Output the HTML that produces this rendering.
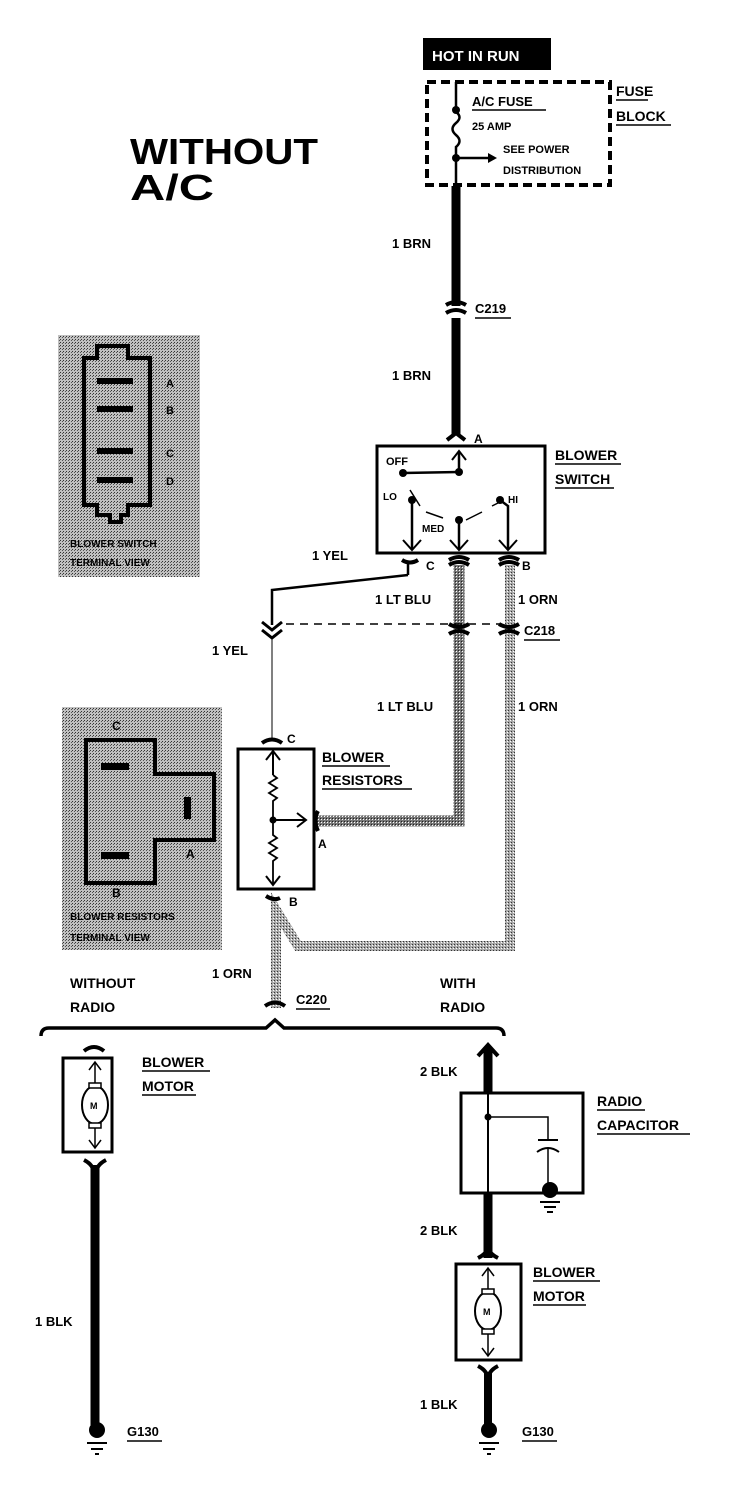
<!DOCTYPE html>
<html><head><meta charset="utf-8"><style>
html,body{margin:0;padding:0;background:#fff;}
svg{display:block;}
text{font-family:"Liberation Sans",sans-serif;font-weight:bold;fill:#000;}
</style></head><body>
<svg width="736" height="1508" viewBox="0 0 736 1508" xmlns="http://www.w3.org/2000/svg">
<defs>
<pattern id="dots" width="3" height="3" patternUnits="userSpaceOnUse">
<rect width="3" height="3" fill="#c0c0c0"/><rect width="1" height="1" fill="#333"/><rect x="2" y="1" width="1" height="1" fill="#555"/>
</pattern>
<pattern id="wire" width="3" height="3" patternUnits="userSpaceOnUse">
<rect width="3" height="3" fill="#777"/><rect width="1" height="1" fill="#fff"/><rect x="2" y="2" width="1" height="1" fill="#222"/>
</pattern>
<pattern id="wire2" width="3" height="3" patternUnits="userSpaceOnUse">
<rect width="3" height="3" fill="#aaa"/><rect width="1" height="1" fill="#fff"/><rect x="1" y="2" width="1" height="1" fill="#333"/>
</pattern>
</defs>

<text x="130" y="164" font-size="36" textLength="188" lengthAdjust="spacingAndGlyphs">WITHOUT</text>
<text x="130" y="200" font-size="36" textLength="84" lengthAdjust="spacingAndGlyphs">A/C</text>

<rect x="423" y="38" width="128" height="32" fill="#000"/>
<text x="432" y="61" font-size="15" style="fill:#fff">HOT IN RUN</text>

<rect x="427" y="82" width="183" height="103" fill="none" stroke="#000" stroke-width="4" stroke-dasharray="9,5"/>
<text x="616" y="96" font-size="14">FUSE</text><line x1="616" y1="100" x2="648" y2="100" stroke="#000" stroke-width="1.5"/>
<text x="616" y="121" font-size="14">BLOCK</text><line x1="616" y1="125" x2="671" y2="125" stroke="#000" stroke-width="1.5"/>
<line x1="456" y1="82" x2="456" y2="112" stroke="#000" stroke-width="2.5"/>
<path d="M456 112 q7 5 0 11 q-7 6 0 12 q7 6 0 12 L456 190" fill="none" stroke="#000" stroke-width="2.5"/>
<circle cx="456" cy="110" r="4"/><circle cx="456" cy="158" r="4"/>
<line x1="456" y1="158" x2="490" y2="158" stroke="#000" stroke-width="2.5"/>
<path d="M488 153 L497 158 L488 163 Z"/>
<text x="472" y="106" font-size="13">A/C FUSE</text><line x1="472" y1="110" x2="546" y2="110" stroke="#000" stroke-width="1.5"/>
<text x="472" y="130" font-size="11">25 AMP</text>
<text x="503" y="153" font-size="11">SEE POWER</text>
<text x="503" y="174" font-size="11">DISTRIBUTION</text>

<line x1="456" y1="186" x2="456" y2="306" stroke="#000" stroke-width="9"/>
<line x1="456" y1="318" x2="456" y2="435" stroke="#000" stroke-width="9"/>
<path d="M446 305 q10 -6 20 0" fill="none" stroke="#000" stroke-width="4"/>
<path d="M446 313 q10 -6 20 0" fill="none" stroke="#000" stroke-width="4"/>
<text x="392" y="248" font-size="13">1 BRN</text>
<text x="475" y="313" font-size="13">C219</text><line x1="475" y1="318" x2="511" y2="318" stroke="#000" stroke-width="1.5"/>
<text x="392" y="380" font-size="13">1 BRN</text>
<path d="M447 440 L456 433 L465 440" fill="none" stroke="#000" stroke-width="4"/>
<text x="474" y="443" font-size="12">A</text>

<rect x="377" y="446" width="168" height="107" fill="none" stroke="#000" stroke-width="3"/>
<text x="555" y="460" font-size="14">BLOWER</text><line x1="555" y1="464" x2="621" y2="464" stroke="#000" stroke-width="1.5"/>
<text x="555" y="484" font-size="14">SWITCH</text><line x1="555" y1="488" x2="614" y2="488" stroke="#000" stroke-width="1.5"/>
<text x="386" y="465" font-size="11">OFF</text>
<circle cx="403" cy="473" r="4"/><circle cx="459" cy="472" r="4"/>
<line x1="403" y1="473" x2="459" y2="472" stroke="#000" stroke-width="2.5"/>
<line x1="459" y1="472" x2="459" y2="452" stroke="#000" stroke-width="2.5"/>
<path d="M452 460 L459 451 L466 460" fill="none" stroke="#000" stroke-width="2"/>
<text x="383" y="500" font-size="10">LO</text>
<text x="508" y="503" font-size="10">HI</text>
<text x="422" y="532" font-size="10">MED</text>
<circle cx="412" cy="500" r="4"/><circle cx="459" cy="520" r="4"/><circle cx="500" cy="500" r="4"/>
<path d="M410 490 L420 506 M426 512 L443 518 M466 520 L482 512 M492 506 L498 503" fill="none" stroke="#000" stroke-width="1.5"/>
<line x1="412" y1="500" x2="412" y2="550" stroke="#000" stroke-width="2.5"/>
<line x1="459" y1="520" x2="459" y2="550" stroke="#000" stroke-width="2.5"/>
<path d="M500 500 L508 506 L508 550" fill="none" stroke="#000" stroke-width="2.5"/>
<path d="M403 540 L412 550 L421 540 M450 540 L459 550 L468 540 M499 540 L508 550 L517 540" fill="none" stroke="#000" stroke-width="2"/>

<path d="M402 560 q8 5 16 0 M449 560 q10 -6 20 0 M499 560 q10 -6 20 0" fill="none" stroke="#000" stroke-width="4"/>
<line x1="408" y1="562" x2="408" y2="575" stroke="#000" stroke-width="2.5"/>
<text x="426" y="570" font-size="12">C</text>
<text x="522" y="570" font-size="12">B</text>
<text x="312" y="560" font-size="13">1 YEL</text>

<path d="M408 575 L272 590 L272 625" fill="none" stroke="#000" stroke-width="2.5"/>
<path d="M262 622 L272 630 L282 622 M262 630 L272 638 L282 630" fill="none" stroke="#000" stroke-width="3"/>
<line x1="272" y1="638" x2="272" y2="740" stroke="#000" stroke-width="1"/>
<text x="212" y="655" font-size="13">1 YEL</text>

<path d="M459 565 L459 821 L316 821" fill="none" stroke="url(#wire)" stroke-width="11"/>
<path d="M510 565 L510 946 L298 946 L276 910 L276 1008" fill="none" stroke="url(#wire2)" stroke-width="10"/>
<path d="M449 565 q10 -6 20 0 M499 565 q10 -6 20 0" fill="none" stroke="#000" stroke-width="4"/>

<line x1="286" y1="624" x2="500" y2="624" stroke="#000" stroke-width="1.5" stroke-dasharray="8,6"/>
<path d="M449 624 q10 6 20 0 M449 634 q10 -6 20 0 M499 624 q10 6 20 0 M499 634 q10 -6 20 0" fill="none" stroke="#000" stroke-width="4"/>
<text x="524" y="635" font-size="13">C218</text><line x1="524" y1="640" x2="560" y2="640" stroke="#000" stroke-width="1.5"/>
<text x="375" y="604" font-size="13">1 LT BLU</text>
<text x="518" y="604" font-size="13">1 ORN</text>
<text x="377" y="711" font-size="13">1 LT BLU</text>
<text x="518" y="711" font-size="13">1 ORN</text>

<rect x="238" y="749" width="76" height="140" fill="#fff" stroke="#000" stroke-width="3"/>
<path d="M262 743 q10 -7 20 0" fill="none" stroke="#000" stroke-width="4"/>
<text x="287" y="743" font-size="12">C</text>
<line x1="273" y1="752" x2="273" y2="775" stroke="#000" stroke-width="2"/>
<path d="M266 760 L273 751 L280 760" fill="none" stroke="#000" stroke-width="2"/>
<path d="M273 775 l4 3 l-8 5 l8 5 l-8 5 l8 5 l-4 3 L273 818" fill="none" stroke="#000" stroke-width="1.8"/>
<circle cx="273" cy="820" r="3.5"/>
<line x1="273" y1="820" x2="305" y2="820" stroke="#000" stroke-width="2"/>
<path d="M297 813 L306 820 L297 827" fill="none" stroke="#000" stroke-width="2"/>
<path d="M273 822 L273 835 l4 3 l-8 5 l8 5 l-8 5 l8 5 l-4 3 L273 885" fill="none" stroke="#000" stroke-width="1.8"/>
<path d="M266 876 L273 885 L280 876" fill="none" stroke="#000" stroke-width="2"/>
<path d="M318 811 q-5 9 0 20" fill="none" stroke="#000" stroke-width="4"/>
<text x="318" y="848" font-size="12">A</text>
<path d="M266 896 q8 5 14 2" fill="none" stroke="#000" stroke-width="4"/>
<text x="289" y="906" font-size="12">B</text>
<text x="322" y="762" font-size="14">BLOWER</text><line x1="322" y1="766" x2="390" y2="766" stroke="#000" stroke-width="1.5"/>
<text x="322" y="785" font-size="14">RESISTORS</text><line x1="322" y1="789" x2="412" y2="789" stroke="#000" stroke-width="1.5"/>

<text x="212" y="978" font-size="13">1 ORN</text>
<path d="M265 1006 q10 -7 20 0" fill="none" stroke="#000" stroke-width="4"/>
<text x="296" y="1004" font-size="13">C220</text><line x1="296" y1="1009" x2="330" y2="1009" stroke="#000" stroke-width="1.5"/>
<path d="M41 1036 q0 -8 8 -8 L266 1028 L275 1020 L284 1028 L496 1028 q8 0 8 8" fill="none" stroke="#000" stroke-width="3.5"/>
<text x="70" y="988" font-size="14">WITHOUT</text>
<text x="70" y="1012" font-size="14">RADIO</text>
<text x="440" y="988" font-size="14">WITH</text>
<text x="440" y="1012" font-size="14">RADIO</text>

<path d="M84 1051 q10 -8 20 0" fill="none" stroke="#000" stroke-width="4"/>
<rect x="63" y="1058" width="49" height="94" fill="#fff" stroke="#000" stroke-width="3"/>
<line x1="95" y1="1062" x2="95" y2="1148" stroke="#000" stroke-width="1.5"/>
<path d="M89 1070 L95 1062 L101 1070 M89 1140 L95 1148 L101 1140" fill="none" stroke="#000" stroke-width="1.5"/>
<ellipse cx="95" cy="1105" rx="13" ry="19" fill="#fff" stroke="#000" stroke-width="2"/>
<rect x="89" y="1083" width="12" height="5" fill="#fff" stroke="#000" stroke-width="1.5"/>
<rect x="89" y="1123" width="12" height="5" fill="#fff" stroke="#000" stroke-width="1.5"/>
<text x="90" y="1109" font-size="9">M</text>
<text x="142" y="1067" font-size="14">BLOWER</text><line x1="142" y1="1071" x2="210" y2="1071" stroke="#000" stroke-width="1.5"/>
<text x="142" y="1091" font-size="14">MOTOR</text><line x1="142" y1="1095" x2="196" y2="1095" stroke="#000" stroke-width="1.5"/>
<path d="M84 1160 q10 5 10 14 M106 1160 q-10 5 -10 14" fill="none" stroke="#000" stroke-width="4"/>
<line x1="95" y1="1165" x2="95" y2="1425" stroke="#000" stroke-width="9"/>
<text x="35" y="1326" font-size="13">1 BLK</text>
<circle cx="97" cy="1430" r="8"/>
<line x1="87" y1="1443" x2="107" y2="1443" stroke="#000" stroke-width="2"/>
<line x1="91" y1="1449" x2="103" y2="1449" stroke="#000" stroke-width="2"/>
<line x1="95" y1="1454" x2="99" y2="1454" stroke="#000" stroke-width="2"/>
<text x="127" y="1436" font-size="13">G130</text><line x1="127" y1="1441" x2="162" y2="1441" stroke="#000" stroke-width="1.5"/>

<line x1="488" y1="1048" x2="488" y2="1258" stroke="#000" stroke-width="9"/>
<path d="M478 1056 L488 1045 L498 1056" fill="none" stroke="#000" stroke-width="4"/>
<text x="420" y="1076" font-size="13">2 BLK</text>
<rect x="461" y="1093" width="122" height="100" fill="#fff" stroke="#000" stroke-width="3"/>
<line x1="488" y1="1093" x2="488" y2="1193" stroke="#000" stroke-width="2"/>
<circle cx="488" cy="1117" r="3.5"/>
<path d="M488 1117 L548 1117 L548 1139" fill="none" stroke="#000" stroke-width="1.5"/>
<line x1="538" y1="1140" x2="558" y2="1140" stroke="#000" stroke-width="2"/>
<path d="M537 1152 q11 -8 22 0" fill="none" stroke="#000" stroke-width="2"/>
<line x1="548" y1="1148" x2="548" y2="1185" stroke="#000" stroke-width="1.5"/>
<circle cx="550" cy="1190" r="8"/>
<line x1="540" y1="1202" x2="560" y2="1202" stroke="#000" stroke-width="2"/>
<line x1="544" y1="1207" x2="556" y2="1207" stroke="#000" stroke-width="2"/>
<line x1="547" y1="1212" x2="553" y2="1212" stroke="#000" stroke-width="2"/>
<text x="597" y="1106" font-size="14">RADIO</text><line x1="597" y1="1110" x2="645" y2="1110" stroke="#000" stroke-width="1.5"/>
<text x="597" y="1130" font-size="14">CAPACITOR</text><line x1="597" y1="1134" x2="690" y2="1134" stroke="#000" stroke-width="1.5"/>
<text x="420" y="1235" font-size="13">2 BLK</text>
<path d="M478 1258 q10 -5 10 -12 M498 1258 q-10 -5 -10 -12" fill="none" stroke="#000" stroke-width="4"/>
<rect x="456" y="1264" width="65" height="96" fill="#fff" stroke="#000" stroke-width="3"/>
<line x1="488" y1="1268" x2="488" y2="1356" stroke="#000" stroke-width="1.5"/>
<path d="M482 1276 L488 1268 L494 1276 M482 1348 L488 1356 L494 1348" fill="none" stroke="#000" stroke-width="1.5"/>
<ellipse cx="488" cy="1311" rx="13" ry="19" fill="#fff" stroke="#000" stroke-width="2"/>
<rect x="482" y="1289" width="12" height="5" fill="#fff" stroke="#000" stroke-width="1.5"/>
<rect x="482" y="1329" width="12" height="5" fill="#fff" stroke="#000" stroke-width="1.5"/>
<text x="483" y="1315" font-size="9">M</text>
<text x="533" y="1277" font-size="14">BLOWER</text><line x1="533" y1="1281" x2="600" y2="1281" stroke="#000" stroke-width="1.5"/>
<text x="533" y="1301" font-size="14">MOTOR</text><line x1="533" y1="1305" x2="586" y2="1305" stroke="#000" stroke-width="1.5"/>
<path d="M478 1366 q10 5 10 14 M498 1366 q-10 5 -10 14" fill="none" stroke="#000" stroke-width="4"/>
<line x1="488" y1="1372" x2="488" y2="1425" stroke="#000" stroke-width="8"/>
<text x="420" y="1409" font-size="13">1 BLK</text>
<circle cx="489" cy="1430" r="8"/>
<line x1="479" y1="1443" x2="499" y2="1443" stroke="#000" stroke-width="2"/>
<line x1="483" y1="1449" x2="495" y2="1449" stroke="#000" stroke-width="2"/>
<line x1="487" y1="1454" x2="491" y2="1454" stroke="#000" stroke-width="2"/>
<text x="522" y="1436" font-size="13">G130</text><line x1="522" y1="1441" x2="557" y2="1441" stroke="#000" stroke-width="1.5"/>

<rect x="58" y="335" width="142" height="242" fill="url(#dots)"/>
<path d="M84 358 L97 358 L97 346 L128 346 L128 358 L150 358 L150 505 L128 505 L128 515 L121 515 L121 522 L110 522 L110 515 L97 515 L97 505 L84 505 Z" fill="none" stroke="#000" stroke-width="4"/>
<rect x="97" y="378" width="36" height="6"/><rect x="97" y="406" width="36" height="6"/>
<rect x="97" y="448" width="36" height="6"/><rect x="97" y="477" width="36" height="6"/>
<text x="166" y="387" font-size="11">A</text><text x="166" y="414" font-size="11">B</text>
<text x="166" y="457" font-size="11">C</text><text x="166" y="485" font-size="11">D</text>
<text x="70" y="547" font-size="10">BLOWER SWITCH</text>
<text x="70" y="566" font-size="10">TERMINAL VIEW</text>

<rect x="62" y="707" width="160" height="243" fill="url(#dots)"/>
<path d="M86 740 L155 740 L155 774 L214 774 L214 840 L155 840 L155 883 L86 883 Z" fill="none" stroke="#000" stroke-width="4"/>
<rect x="101" y="763" width="28" height="7"/><rect x="101" y="852" width="28" height="7"/><rect x="184" y="797" width="7" height="22"/>
<text x="112" y="730" font-size="12">C</text>
<text x="112" y="897" font-size="12">B</text>
<text x="186" y="858" font-size="12">A</text>
<text x="70" y="920" font-size="10">BLOWER RESISTORS</text>
<text x="70" y="941" font-size="10">TERMINAL VIEW</text>
</svg>
</body></html>
